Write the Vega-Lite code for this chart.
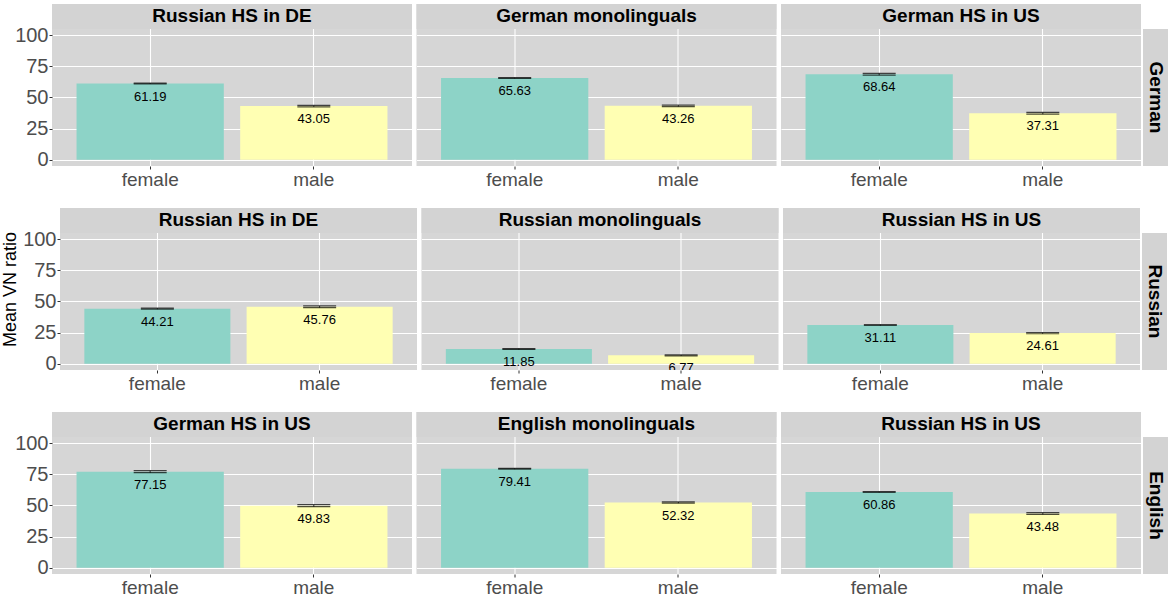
{
  "$schema": "https://vega.github.io/schema/vega-lite/v6.json",
  "background": "white",
  "padding": {"left": 0, "top": 4, "right": 0, "bottom": 0},
  "config": {"view": {"stroke": null}, "font": "Liberation Sans"},
  "data": {"values": [
    {"lang": "German", "col": 1, "group": "Russian HS in DE", "sex": "female", "value": 61.19, "lo": 60.9, "hi": 61.5},
    {"lang": "German", "col": 1, "group": "Russian HS in DE", "sex": "male", "value": 43.05, "lo": 42.5, "hi": 43.6},
    {"lang": "German", "col": 2, "group": "German monolinguals", "sex": "female", "value": 65.63, "lo": 65.3, "hi": 65.9},
    {"lang": "German", "col": 2, "group": "German monolinguals", "sex": "male", "value": 43.26, "lo": 42.7, "hi": 43.8},
    {"lang": "German", "col": 3, "group": "German HS in US", "sex": "female", "value": 68.64, "lo": 67.9, "hi": 69.4},
    {"lang": "German", "col": 3, "group": "German HS in US", "sex": "male", "value": 37.31, "lo": 36.6, "hi": 38.0},
    {"lang": "Russian", "col": 1, "group": "Russian HS in DE", "sex": "female", "value": 44.21, "lo": 43.8, "hi": 44.6},
    {"lang": "Russian", "col": 1, "group": "Russian HS in DE", "sex": "male", "value": 45.76, "lo": 45.0, "hi": 46.5},
    {"lang": "Russian", "col": 2, "group": "Russian monolinguals", "sex": "female", "value": 11.85, "lo": 11.5, "hi": 12.2},
    {"lang": "Russian", "col": 2, "group": "Russian monolinguals", "sex": "male", "value": 6.77, "lo": 6.4, "hi": 7.1},
    {"lang": "Russian", "col": 3, "group": "Russian HS in US", "sex": "female", "value": 31.11, "lo": 30.7, "hi": 31.5},
    {"lang": "Russian", "col": 3, "group": "Russian HS in US", "sex": "male", "value": 24.61, "lo": 24.1, "hi": 25.1},
    {"lang": "English", "col": 1, "group": "German HS in US", "sex": "female", "value": 77.15, "lo": 76.3, "hi": 78.0},
    {"lang": "English", "col": 1, "group": "German HS in US", "sex": "male", "value": 49.83, "lo": 49.0, "hi": 50.6},
    {"lang": "English", "col": 2, "group": "English monolinguals", "sex": "female", "value": 79.41, "lo": 79.1, "hi": 79.7},
    {"lang": "English", "col": 2, "group": "English monolinguals", "sex": "male", "value": 52.32, "lo": 51.8, "hi": 52.8},
    {"lang": "English", "col": 3, "group": "Russian HS in US", "sex": "female", "value": 60.86, "lo": 60.5, "hi": 61.2},
    {"lang": "English", "col": 3, "group": "Russian HS in US", "sex": "male", "value": 43.48, "lo": 42.8, "hi": 44.2}
  ]},
  "vconcat": [
    {"hconcat": [
      {"width": 14, "height": 162, "data": {"values": []}, "mark": "point", "encoding": {}},
      {"hconcat": [
        {"width": 360, "height": 162, "view": {"fill": "#D6D6D6", "stroke": null},
         "transform": [{"filter": "datum.lang === 'German' && datum.col === 1"}],
         "layer": [
          {"mark": "bar", "encoding": {
            "x": {"field": "sex", "type": "nominal", "scale": {"paddingInner": 0.1, "paddingOuter": 0.15}, "axis": {"title": null, "labelAngle": 0, "labelFontSize": 19, "labelColor": "#4D4D4D", "labelPadding": 1, "tickSize": 3, "tickColor": "#333333", "domain": false, "grid": true, "gridColor": "#FFFFFF", "gridWidth": 1.1}},
            "y": {"field": "value", "type": "quantitative", "scale": {"domain": [-5, 125], "nice": false, "zero": false}, "axis": {"title": null, "values": [0, 12.5, 25, 37.5, 50, 62.5, 75, 87.5, 100], "labelExpr": "datum.value % 25 === 0 ? datum.label : ''", "labelOverlap": false, "domain": false, "labelFontSize": 20, "labelColor": "#4D4D4D", "labelPadding": 1, "tickSize": 3, "tickColor": "#333333", "tickOpacity": {"condition": {"test": "datum.value % 25 === 0", "value": 1}, "value": 0}, "gridColor": {"condition": {"test": "datum.value % 25 === 0", "value": "#FFFFFF"}, "value": "#E3E3E3"}, "gridWidth": {"condition": {"test": "datum.value % 25 === 0", "value": 1.1}, "value": 0.6}}},
            "color": {"field": "sex", "type": "nominal", "scale": {"domain": ["female", "male"], "range": ["#8DD3C7", "#FFFFB3"]}, "legend": null}}},
          {"mark": {"type": "rule", "color": "black", "strokeWidth": 0.8}, "encoding": {"x": {"field": "sex", "type": "nominal"}, "y": {"field": "lo", "type": "quantitative"}, "y2": {"field": "hi"}}},
          {"mark": {"type": "tick", "color": "black", "size": 33, "thickness": 1.2}, "encoding": {"x": {"field": "sex", "type": "nominal"}, "y": {"field": "lo", "type": "quantitative"}}},
          {"mark": {"type": "tick", "color": "black", "size": 33, "thickness": 1.2}, "encoding": {"x": {"field": "sex", "type": "nominal"}, "y": {"field": "hi", "type": "quantitative"}}},
          {"mark": {"type": "text", "dy": 13, "fontSize": 13, "baseline": "middle", "clip": true, "color": "black"}, "encoding": {"x": {"field": "sex", "type": "nominal"}, "y": {"field": "value", "type": "quantitative"}, "text": {"field": "value", "type": "quantitative", "format": ".2f"}}},
          {"transform": [{"filter": "datum.sex === 'female'"}], "mark": {"type": "rect", "color": "#D3D3D3"}, "encoding": {"y": {"datum": 105}, "y2": {"datum": 125}}},
          {"transform": [{"filter": "datum.sex === 'female'"}], "mark": {"type": "text", "fontWeight": "bold", "fontSize": 19, "baseline": "middle", "color": "black"}, "encoding": {"y": {"datum": 115}, "text": {"field": "group"}}}
         ]},
        {"width": 360, "height": 162, "view": {"fill": "#D6D6D6", "stroke": null},
         "transform": [{"filter": "datum.lang === 'German' && datum.col === 2"}],
         "layer": [
          {"mark": "bar", "encoding": {
            "x": {"field": "sex", "type": "nominal", "scale": {"paddingInner": 0.1, "paddingOuter": 0.15}, "axis": {"title": null, "labelAngle": 0, "labelFontSize": 19, "labelColor": "#4D4D4D", "labelPadding": 1, "tickSize": 3, "tickColor": "#333333", "domain": false, "grid": true, "gridColor": "#FFFFFF", "gridWidth": 1.1}},
            "y": {"field": "value", "type": "quantitative", "scale": {"domain": [-5, 125], "nice": false, "zero": false}, "axis": {"title": null, "values": [0, 12.5, 25, 37.5, 50, 62.5, 75, 87.5, 100], "labels": false, "ticks": false, "domain": false, "gridColor": {"condition": {"test": "datum.value % 25 === 0", "value": "#FFFFFF"}, "value": "#E3E3E3"}, "gridWidth": {"condition": {"test": "datum.value % 25 === 0", "value": 1.1}, "value": 0.6}}},
            "color": {"field": "sex", "type": "nominal", "scale": {"domain": ["female", "male"], "range": ["#8DD3C7", "#FFFFB3"]}, "legend": null}}},
          {"mark": {"type": "rule", "color": "black", "strokeWidth": 0.8}, "encoding": {"x": {"field": "sex", "type": "nominal"}, "y": {"field": "lo", "type": "quantitative"}, "y2": {"field": "hi"}}},
          {"mark": {"type": "tick", "color": "black", "size": 33, "thickness": 1.2}, "encoding": {"x": {"field": "sex", "type": "nominal"}, "y": {"field": "lo", "type": "quantitative"}}},
          {"mark": {"type": "tick", "color": "black", "size": 33, "thickness": 1.2}, "encoding": {"x": {"field": "sex", "type": "nominal"}, "y": {"field": "hi", "type": "quantitative"}}},
          {"mark": {"type": "text", "dy": 13, "fontSize": 13, "baseline": "middle", "clip": true, "color": "black"}, "encoding": {"x": {"field": "sex", "type": "nominal"}, "y": {"field": "value", "type": "quantitative"}, "text": {"field": "value", "type": "quantitative", "format": ".2f"}}},
          {"transform": [{"filter": "datum.sex === 'female'"}], "mark": {"type": "rect", "color": "#D3D3D3"}, "encoding": {"y": {"datum": 105}, "y2": {"datum": 125}}},
          {"transform": [{"filter": "datum.sex === 'female'"}], "mark": {"type": "text", "fontWeight": "bold", "fontSize": 19, "baseline": "middle", "color": "black"}, "encoding": {"y": {"datum": 115}, "text": {"field": "group"}}}
         ]},
        {"hconcat": [
          {"width": 360, "height": 162, "view": {"fill": "#D6D6D6", "stroke": null},
           "transform": [{"filter": "datum.lang === 'German' && datum.col === 3"}],
           "layer": [
            {"mark": "bar", "encoding": {
              "x": {"field": "sex", "type": "nominal", "scale": {"paddingInner": 0.1, "paddingOuter": 0.15}, "axis": {"title": null, "labelAngle": 0, "labelFontSize": 19, "labelColor": "#4D4D4D", "labelPadding": 1, "tickSize": 3, "tickColor": "#333333", "domain": false, "grid": true, "gridColor": "#FFFFFF", "gridWidth": 1.1}},
              "y": {"field": "value", "type": "quantitative", "scale": {"domain": [-5, 125], "nice": false, "zero": false}, "axis": {"title": null, "values": [0, 12.5, 25, 37.5, 50, 62.5, 75, 87.5, 100], "labels": false, "ticks": false, "domain": false, "gridColor": {"condition": {"test": "datum.value % 25 === 0", "value": "#FFFFFF"}, "value": "#E3E3E3"}, "gridWidth": {"condition": {"test": "datum.value % 25 === 0", "value": 1.1}, "value": 0.6}}},
              "color": {"field": "sex", "type": "nominal", "scale": {"domain": ["female", "male"], "range": ["#8DD3C7", "#FFFFB3"]}, "legend": null}}},
            {"mark": {"type": "rule", "color": "black", "strokeWidth": 0.8}, "encoding": {"x": {"field": "sex", "type": "nominal"}, "y": {"field": "lo", "type": "quantitative"}, "y2": {"field": "hi"}}},
            {"mark": {"type": "tick", "color": "black", "size": 33, "thickness": 1.2}, "encoding": {"x": {"field": "sex", "type": "nominal"}, "y": {"field": "lo", "type": "quantitative"}}},
            {"mark": {"type": "tick", "color": "black", "size": 33, "thickness": 1.2}, "encoding": {"x": {"field": "sex", "type": "nominal"}, "y": {"field": "hi", "type": "quantitative"}}},
            {"mark": {"type": "text", "dy": 13, "fontSize": 13, "baseline": "middle", "clip": true, "color": "black"}, "encoding": {"x": {"field": "sex", "type": "nominal"}, "y": {"field": "value", "type": "quantitative"}, "text": {"field": "value", "type": "quantitative", "format": ".2f"}}},
            {"transform": [{"filter": "datum.sex === 'female'"}], "mark": {"type": "rect", "color": "#D3D3D3"}, "encoding": {"y": {"datum": 105}, "y2": {"datum": 125}}},
            {"transform": [{"filter": "datum.sex === 'female'"}], "mark": {"type": "text", "fontWeight": "bold", "fontSize": 19, "baseline": "middle", "color": "black"}, "encoding": {"y": {"datum": 115}, "text": {"field": "group"}}}
           ]},
          {"width": 25, "height": 162, "view": {"fill": null, "stroke": null},
           "transform": [{"filter": "datum.lang === 'German' && datum.col === 1 && datum.sex === 'female'"}],
           "layer": [
            {"mark": {"type": "rect", "color": "#D3D3D3"}, "encoding": {"y": {"datum": -5, "scale": {"domain": [-5, 125], "nice": false, "zero": false}, "axis": null}, "y2": {"datum": 105}}},
            {"mark": {"type": "text", "fontWeight": "bold", "fontSize": 19, "angle": 90, "baseline": "middle", "color": "black"}, "encoding": {"y": {"datum": 50}, "text": {"field": "lang"}}}
           ]}
        ], "spacing": 2}
      ], "spacing": 4.5}
    ], "spacing": 0},
    {"hconcat": [
      {"width": 1, "height": 162, "data": {"values": []}, "mark": "point", "encoding": {}},
      {"hconcat": [
        {"width": 357, "height": 162, "view": {"fill": "#D6D6D6", "stroke": null},
         "transform": [{"filter": "datum.lang === 'Russian' && datum.col === 1"}],
         "layer": [
          {"mark": "bar", "encoding": {
            "x": {"field": "sex", "type": "nominal", "scale": {"paddingInner": 0.1, "paddingOuter": 0.15}, "axis": {"title": null, "labelAngle": 0, "labelFontSize": 19, "labelColor": "#4D4D4D", "labelPadding": 1, "tickSize": 3, "tickColor": "#333333", "domain": false, "grid": true, "gridColor": "#FFFFFF", "gridWidth": 1.1}},
            "y": {"field": "value", "type": "quantitative", "scale": {"domain": [-5, 125], "nice": false, "zero": false}, "axis": {"title": "Mean VN ratio", "titleFontSize": 18, "titleFontWeight": "normal", "titleColor": "black", "titlePadding": 3, "values": [0, 12.5, 25, 37.5, 50, 62.5, 75, 87.5, 100], "labelExpr": "datum.value % 25 === 0 ? datum.label : ''", "labelOverlap": false, "domain": false, "labelFontSize": 20, "labelColor": "#4D4D4D", "labelPadding": 1, "tickSize": 3, "tickColor": "#333333", "tickOpacity": {"condition": {"test": "datum.value % 25 === 0", "value": 1}, "value": 0}, "gridColor": {"condition": {"test": "datum.value % 25 === 0", "value": "#FFFFFF"}, "value": "#E3E3E3"}, "gridWidth": {"condition": {"test": "datum.value % 25 === 0", "value": 1.1}, "value": 0.6}}},
            "color": {"field": "sex", "type": "nominal", "scale": {"domain": ["female", "male"], "range": ["#8DD3C7", "#FFFFB3"]}, "legend": null}}},
          {"mark": {"type": "rule", "color": "black", "strokeWidth": 0.8}, "encoding": {"x": {"field": "sex", "type": "nominal"}, "y": {"field": "lo", "type": "quantitative"}, "y2": {"field": "hi"}}},
          {"mark": {"type": "tick", "color": "black", "size": 33, "thickness": 1.2}, "encoding": {"x": {"field": "sex", "type": "nominal"}, "y": {"field": "lo", "type": "quantitative"}}},
          {"mark": {"type": "tick", "color": "black", "size": 33, "thickness": 1.2}, "encoding": {"x": {"field": "sex", "type": "nominal"}, "y": {"field": "hi", "type": "quantitative"}}},
          {"mark": {"type": "text", "dy": 13, "fontSize": 13, "baseline": "middle", "clip": true, "color": "black"}, "encoding": {"x": {"field": "sex", "type": "nominal"}, "y": {"field": "value", "type": "quantitative"}, "text": {"field": "value", "type": "quantitative", "format": ".2f"}}},
          {"transform": [{"filter": "datum.sex === 'female'"}], "mark": {"type": "rect", "color": "#D3D3D3"}, "encoding": {"y": {"datum": 105}, "y2": {"datum": 125}}},
          {"transform": [{"filter": "datum.sex === 'female'"}], "mark": {"type": "text", "fontWeight": "bold", "fontSize": 19, "baseline": "middle", "color": "black"}, "encoding": {"y": {"datum": 115}, "text": {"field": "group"}}}
         ]},
        {"width": 357, "height": 162, "view": {"fill": "#D6D6D6", "stroke": null},
         "transform": [{"filter": "datum.lang === 'Russian' && datum.col === 2"}],
         "layer": [
          {"mark": "bar", "encoding": {
            "x": {"field": "sex", "type": "nominal", "scale": {"paddingInner": 0.1, "paddingOuter": 0.15}, "axis": {"title": null, "labelAngle": 0, "labelFontSize": 19, "labelColor": "#4D4D4D", "labelPadding": 1, "tickSize": 3, "tickColor": "#333333", "domain": false, "grid": true, "gridColor": "#FFFFFF", "gridWidth": 1.1}},
            "y": {"field": "value", "type": "quantitative", "scale": {"domain": [-5, 125], "nice": false, "zero": false}, "axis": {"title": null, "values": [0, 12.5, 25, 37.5, 50, 62.5, 75, 87.5, 100], "labels": false, "ticks": false, "domain": false, "gridColor": {"condition": {"test": "datum.value % 25 === 0", "value": "#FFFFFF"}, "value": "#E3E3E3"}, "gridWidth": {"condition": {"test": "datum.value % 25 === 0", "value": 1.1}, "value": 0.6}}},
            "color": {"field": "sex", "type": "nominal", "scale": {"domain": ["female", "male"], "range": ["#8DD3C7", "#FFFFB3"]}, "legend": null}}},
          {"mark": {"type": "rule", "color": "black", "strokeWidth": 0.8}, "encoding": {"x": {"field": "sex", "type": "nominal"}, "y": {"field": "lo", "type": "quantitative"}, "y2": {"field": "hi"}}},
          {"mark": {"type": "tick", "color": "black", "size": 33, "thickness": 1.2}, "encoding": {"x": {"field": "sex", "type": "nominal"}, "y": {"field": "lo", "type": "quantitative"}}},
          {"mark": {"type": "tick", "color": "black", "size": 33, "thickness": 1.2}, "encoding": {"x": {"field": "sex", "type": "nominal"}, "y": {"field": "hi", "type": "quantitative"}}},
          {"mark": {"type": "text", "dy": 13, "fontSize": 13, "baseline": "middle", "clip": true, "color": "black"}, "encoding": {"x": {"field": "sex", "type": "nominal"}, "y": {"field": "value", "type": "quantitative"}, "text": {"field": "value", "type": "quantitative", "format": ".2f"}}},
          {"transform": [{"filter": "datum.sex === 'female'"}], "mark": {"type": "rect", "color": "#D3D3D3"}, "encoding": {"y": {"datum": 105}, "y2": {"datum": 125}}},
          {"transform": [{"filter": "datum.sex === 'female'"}], "mark": {"type": "text", "fontWeight": "bold", "fontSize": 19, "baseline": "middle", "color": "black"}, "encoding": {"y": {"datum": 115}, "text": {"field": "group"}}}
         ]},
        {"hconcat": [
          {"width": 357, "height": 162, "view": {"fill": "#D6D6D6", "stroke": null},
           "transform": [{"filter": "datum.lang === 'Russian' && datum.col === 3"}],
           "layer": [
            {"mark": "bar", "encoding": {
              "x": {"field": "sex", "type": "nominal", "scale": {"paddingInner": 0.1, "paddingOuter": 0.15}, "axis": {"title": null, "labelAngle": 0, "labelFontSize": 19, "labelColor": "#4D4D4D", "labelPadding": 1, "tickSize": 3, "tickColor": "#333333", "domain": false, "grid": true, "gridColor": "#FFFFFF", "gridWidth": 1.1}},
              "y": {"field": "value", "type": "quantitative", "scale": {"domain": [-5, 125], "nice": false, "zero": false}, "axis": {"title": null, "values": [0, 12.5, 25, 37.5, 50, 62.5, 75, 87.5, 100], "labels": false, "ticks": false, "domain": false, "gridColor": {"condition": {"test": "datum.value % 25 === 0", "value": "#FFFFFF"}, "value": "#E3E3E3"}, "gridWidth": {"condition": {"test": "datum.value % 25 === 0", "value": 1.1}, "value": 0.6}}},
              "color": {"field": "sex", "type": "nominal", "scale": {"domain": ["female", "male"], "range": ["#8DD3C7", "#FFFFB3"]}, "legend": null}}},
            {"mark": {"type": "rule", "color": "black", "strokeWidth": 0.8}, "encoding": {"x": {"field": "sex", "type": "nominal"}, "y": {"field": "lo", "type": "quantitative"}, "y2": {"field": "hi"}}},
            {"mark": {"type": "tick", "color": "black", "size": 33, "thickness": 1.2}, "encoding": {"x": {"field": "sex", "type": "nominal"}, "y": {"field": "lo", "type": "quantitative"}}},
            {"mark": {"type": "tick", "color": "black", "size": 33, "thickness": 1.2}, "encoding": {"x": {"field": "sex", "type": "nominal"}, "y": {"field": "hi", "type": "quantitative"}}},
            {"mark": {"type": "text", "dy": 13, "fontSize": 13, "baseline": "middle", "clip": true, "color": "black"}, "encoding": {"x": {"field": "sex", "type": "nominal"}, "y": {"field": "value", "type": "quantitative"}, "text": {"field": "value", "type": "quantitative", "format": ".2f"}}},
            {"transform": [{"filter": "datum.sex === 'female'"}], "mark": {"type": "rect", "color": "#D3D3D3"}, "encoding": {"y": {"datum": 105}, "y2": {"datum": 125}}},
            {"transform": [{"filter": "datum.sex === 'female'"}], "mark": {"type": "text", "fontWeight": "bold", "fontSize": 19, "baseline": "middle", "color": "black"}, "encoding": {"y": {"datum": 115}, "text": {"field": "group"}}}
           ]},
          {"width": 25, "height": 162, "view": {"fill": null, "stroke": null},
           "transform": [{"filter": "datum.lang === 'Russian' && datum.col === 1 && datum.sex === 'female'"}],
           "layer": [
            {"mark": {"type": "rect", "color": "#D3D3D3"}, "encoding": {"y": {"datum": -5, "scale": {"domain": [-5, 125], "nice": false, "zero": false}, "axis": null}, "y2": {"datum": 105}}},
            {"mark": {"type": "text", "fontWeight": "bold", "fontSize": 19, "angle": 90, "baseline": "middle", "color": "black"}, "encoding": {"y": {"datum": 50}, "text": {"field": "lang"}}}
           ]}
        ], "spacing": 2}
      ], "spacing": 4.5}
    ], "spacing": 0},
    {"hconcat": [
      {"width": 14, "height": 162, "data": {"values": []}, "mark": "point", "encoding": {}},
      {"hconcat": [
        {"width": 360, "height": 162, "view": {"fill": "#D6D6D6", "stroke": null},
         "transform": [{"filter": "datum.lang === 'English' && datum.col === 1"}],
         "layer": [
          {"mark": "bar", "encoding": {
            "x": {"field": "sex", "type": "nominal", "scale": {"paddingInner": 0.1, "paddingOuter": 0.15}, "axis": {"title": null, "labelAngle": 0, "labelFontSize": 19, "labelColor": "#4D4D4D", "labelPadding": 1, "tickSize": 3, "tickColor": "#333333", "domain": false, "grid": true, "gridColor": "#FFFFFF", "gridWidth": 1.1}},
            "y": {"field": "value", "type": "quantitative", "scale": {"domain": [-5, 125], "nice": false, "zero": false}, "axis": {"title": null, "values": [0, 12.5, 25, 37.5, 50, 62.5, 75, 87.5, 100], "labelExpr": "datum.value % 25 === 0 ? datum.label : ''", "labelOverlap": false, "domain": false, "labelFontSize": 20, "labelColor": "#4D4D4D", "labelPadding": 1, "tickSize": 3, "tickColor": "#333333", "tickOpacity": {"condition": {"test": "datum.value % 25 === 0", "value": 1}, "value": 0}, "gridColor": {"condition": {"test": "datum.value % 25 === 0", "value": "#FFFFFF"}, "value": "#E3E3E3"}, "gridWidth": {"condition": {"test": "datum.value % 25 === 0", "value": 1.1}, "value": 0.6}}},
            "color": {"field": "sex", "type": "nominal", "scale": {"domain": ["female", "male"], "range": ["#8DD3C7", "#FFFFB3"]}, "legend": null}}},
          {"mark": {"type": "rule", "color": "black", "strokeWidth": 0.8}, "encoding": {"x": {"field": "sex", "type": "nominal"}, "y": {"field": "lo", "type": "quantitative"}, "y2": {"field": "hi"}}},
          {"mark": {"type": "tick", "color": "black", "size": 33, "thickness": 1.2}, "encoding": {"x": {"field": "sex", "type": "nominal"}, "y": {"field": "lo", "type": "quantitative"}}},
          {"mark": {"type": "tick", "color": "black", "size": 33, "thickness": 1.2}, "encoding": {"x": {"field": "sex", "type": "nominal"}, "y": {"field": "hi", "type": "quantitative"}}},
          {"mark": {"type": "text", "dy": 13, "fontSize": 13, "baseline": "middle", "clip": true, "color": "black"}, "encoding": {"x": {"field": "sex", "type": "nominal"}, "y": {"field": "value", "type": "quantitative"}, "text": {"field": "value", "type": "quantitative", "format": ".2f"}}},
          {"transform": [{"filter": "datum.sex === 'female'"}], "mark": {"type": "rect", "color": "#D3D3D3"}, "encoding": {"y": {"datum": 105}, "y2": {"datum": 125}}},
          {"transform": [{"filter": "datum.sex === 'female'"}], "mark": {"type": "text", "fontWeight": "bold", "fontSize": 19, "baseline": "middle", "color": "black"}, "encoding": {"y": {"datum": 115}, "text": {"field": "group"}}}
         ]},
        {"width": 360, "height": 162, "view": {"fill": "#D6D6D6", "stroke": null},
         "transform": [{"filter": "datum.lang === 'English' && datum.col === 2"}],
         "layer": [
          {"mark": "bar", "encoding": {
            "x": {"field": "sex", "type": "nominal", "scale": {"paddingInner": 0.1, "paddingOuter": 0.15}, "axis": {"title": null, "labelAngle": 0, "labelFontSize": 19, "labelColor": "#4D4D4D", "labelPadding": 1, "tickSize": 3, "tickColor": "#333333", "domain": false, "grid": true, "gridColor": "#FFFFFF", "gridWidth": 1.1}},
            "y": {"field": "value", "type": "quantitative", "scale": {"domain": [-5, 125], "nice": false, "zero": false}, "axis": {"title": null, "values": [0, 12.5, 25, 37.5, 50, 62.5, 75, 87.5, 100], "labels": false, "ticks": false, "domain": false, "gridColor": {"condition": {"test": "datum.value % 25 === 0", "value": "#FFFFFF"}, "value": "#E3E3E3"}, "gridWidth": {"condition": {"test": "datum.value % 25 === 0", "value": 1.1}, "value": 0.6}}},
            "color": {"field": "sex", "type": "nominal", "scale": {"domain": ["female", "male"], "range": ["#8DD3C7", "#FFFFB3"]}, "legend": null}}},
          {"mark": {"type": "rule", "color": "black", "strokeWidth": 0.8}, "encoding": {"x": {"field": "sex", "type": "nominal"}, "y": {"field": "lo", "type": "quantitative"}, "y2": {"field": "hi"}}},
          {"mark": {"type": "tick", "color": "black", "size": 33, "thickness": 1.2}, "encoding": {"x": {"field": "sex", "type": "nominal"}, "y": {"field": "lo", "type": "quantitative"}}},
          {"mark": {"type": "tick", "color": "black", "size": 33, "thickness": 1.2}, "encoding": {"x": {"field": "sex", "type": "nominal"}, "y": {"field": "hi", "type": "quantitative"}}},
          {"mark": {"type": "text", "dy": 13, "fontSize": 13, "baseline": "middle", "clip": true, "color": "black"}, "encoding": {"x": {"field": "sex", "type": "nominal"}, "y": {"field": "value", "type": "quantitative"}, "text": {"field": "value", "type": "quantitative", "format": ".2f"}}},
          {"transform": [{"filter": "datum.sex === 'female'"}], "mark": {"type": "rect", "color": "#D3D3D3"}, "encoding": {"y": {"datum": 105}, "y2": {"datum": 125}}},
          {"transform": [{"filter": "datum.sex === 'female'"}], "mark": {"type": "text", "fontWeight": "bold", "fontSize": 19, "baseline": "middle", "color": "black"}, "encoding": {"y": {"datum": 115}, "text": {"field": "group"}}}
         ]},
        {"hconcat": [
          {"width": 360, "height": 162, "view": {"fill": "#D6D6D6", "stroke": null},
           "transform": [{"filter": "datum.lang === 'English' && datum.col === 3"}],
           "layer": [
            {"mark": "bar", "encoding": {
              "x": {"field": "sex", "type": "nominal", "scale": {"paddingInner": 0.1, "paddingOuter": 0.15}, "axis": {"title": null, "labelAngle": 0, "labelFontSize": 19, "labelColor": "#4D4D4D", "labelPadding": 1, "tickSize": 3, "tickColor": "#333333", "domain": false, "grid": true, "gridColor": "#FFFFFF", "gridWidth": 1.1}},
              "y": {"field": "value", "type": "quantitative", "scale": {"domain": [-5, 125], "nice": false, "zero": false}, "axis": {"title": null, "values": [0, 12.5, 25, 37.5, 50, 62.5, 75, 87.5, 100], "labels": false, "ticks": false, "domain": false, "gridColor": {"condition": {"test": "datum.value % 25 === 0", "value": "#FFFFFF"}, "value": "#E3E3E3"}, "gridWidth": {"condition": {"test": "datum.value % 25 === 0", "value": 1.1}, "value": 0.6}}},
              "color": {"field": "sex", "type": "nominal", "scale": {"domain": ["female", "male"], "range": ["#8DD3C7", "#FFFFB3"]}, "legend": null}}},
            {"mark": {"type": "rule", "color": "black", "strokeWidth": 0.8}, "encoding": {"x": {"field": "sex", "type": "nominal"}, "y": {"field": "lo", "type": "quantitative"}, "y2": {"field": "hi"}}},
            {"mark": {"type": "tick", "color": "black", "size": 33, "thickness": 1.2}, "encoding": {"x": {"field": "sex", "type": "nominal"}, "y": {"field": "lo", "type": "quantitative"}}},
            {"mark": {"type": "tick", "color": "black", "size": 33, "thickness": 1.2}, "encoding": {"x": {"field": "sex", "type": "nominal"}, "y": {"field": "hi", "type": "quantitative"}}},
            {"mark": {"type": "text", "dy": 13, "fontSize": 13, "baseline": "middle", "clip": true, "color": "black"}, "encoding": {"x": {"field": "sex", "type": "nominal"}, "y": {"field": "value", "type": "quantitative"}, "text": {"field": "value", "type": "quantitative", "format": ".2f"}}},
            {"transform": [{"filter": "datum.sex === 'female'"}], "mark": {"type": "rect", "color": "#D3D3D3"}, "encoding": {"y": {"datum": 105}, "y2": {"datum": 125}}},
            {"transform": [{"filter": "datum.sex === 'female'"}], "mark": {"type": "text", "fontWeight": "bold", "fontSize": 19, "baseline": "middle", "color": "black"}, "encoding": {"y": {"datum": 115}, "text": {"field": "group"}}}
           ]},
          {"width": 25, "height": 162, "view": {"fill": null, "stroke": null},
           "transform": [{"filter": "datum.lang === 'English' && datum.col === 1 && datum.sex === 'female'"}],
           "layer": [
            {"mark": {"type": "rect", "color": "#D3D3D3"}, "encoding": {"y": {"datum": -5, "scale": {"domain": [-5, 125], "nice": false, "zero": false}, "axis": null}, "y2": {"datum": 105}}},
            {"mark": {"type": "text", "fontWeight": "bold", "fontSize": 19, "angle": 90, "baseline": "middle", "color": "black"}, "encoding": {"y": {"datum": 50}, "text": {"field": "lang"}}}
           ]}
        ], "spacing": 2}
      ], "spacing": 4.5}
    ], "spacing": 0}
  ],
  "spacing": 19
}
